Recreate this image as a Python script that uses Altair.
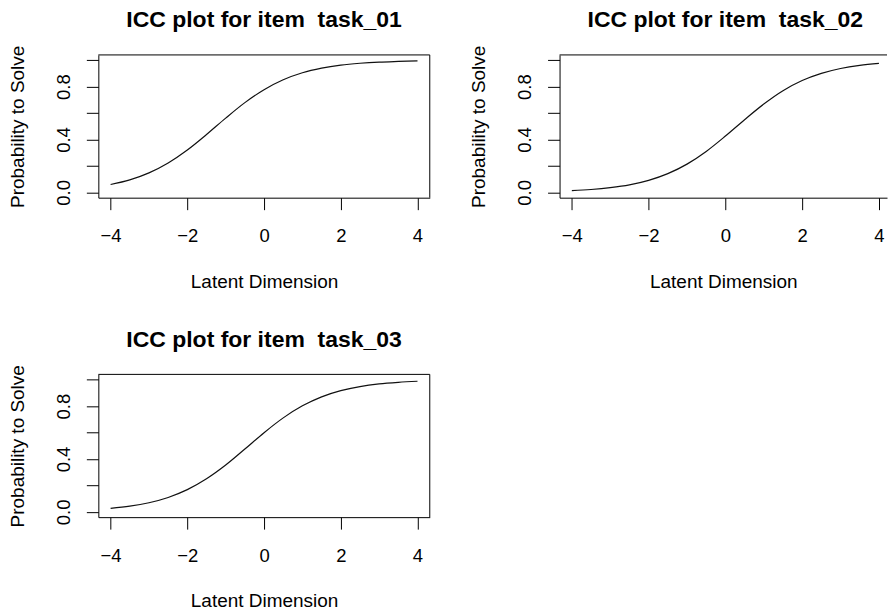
import altair as alt
import pandas as pd

# ---- data ----
theta = [-4.0, -3.5, -3.0, -2.5, -2.0, -1.5, -1.0, -0.5, 0.0,
         0.5, 1.0, 1.5, 2.0, 2.5, 3.0, 3.5, 4.0]
p_task_01 = [0.060, 0.095, 0.148, 0.223, 0.321, 0.438, 0.562, 0.679, 0.777,
             0.852, 0.905, 0.940, 0.963, 0.977, 0.986, 0.991, 0.995]
p_task_02 = [0.013, 0.022, 0.036, 0.057, 0.091, 0.142, 0.214, 0.310, 0.426,
             0.550, 0.668, 0.769, 0.846, 0.900, 0.937, 0.961, 0.976]
p_task_03 = [0.027, 0.043, 0.069, 0.109, 0.168, 0.250, 0.354, 0.475, 0.599,
             0.711, 0.802, 0.870, 0.917, 0.948, 0.968, 0.980, 0.988]
items = ["task_01", "task_02", "task_03"]
x_ticks = [-4, -2, 0, 2, 4]
y_ticks = [0.0, 0.2, 0.4, 0.6, 0.8, 1.0]
x_title = "Latent Dimension"
y_title = "Probability to Solve"

FONT = "Liberation Sans"
H = 143


def panel(item, probs, x_domain, width, title_dx, right_border=True):
    df = pd.DataFrame({"theta": theta, "p": probs})
    line = alt.Chart(df).mark_line(
        color="#111111", strokeWidth=1.2, interpolate="monotone", clip=True
    ).encode(
        x=alt.X(
            "theta:Q",
            scale=alt.Scale(domain=x_domain, nice=False, zero=False),
            axis=alt.Axis(
                values=x_ticks, grid=False, format="d",
                domain=True, domainColor="black", domainWidth=1,
                ticks=True, tickColor="black", tickSize=12, tickWidth=1,
                labelFont=FONT, labelFontSize=18.5, labelColor="black",
                labelPadding=32, labelBaseline="alphabetic", labelAlign="center",
                labelAngle=0, labelFlush=False, labelOverlap=False,
                title=x_title, titleFont=FONT, titleFontSize=19,
                titleFontWeight="normal", titleColor="black",
                titleY=90, titleBaseline="alphabetic",
            ),
        ),
        y=alt.Y(
            "p:Q",
            scale=alt.Scale(domain=[-0.04, 1.04], nice=False, zero=False),
            axis=alt.Axis(
                values=y_ticks, grid=False,
                labelExpr="indexof([0, 0.4, 0.8], datum.value) >= 0 ? format(datum.value, '.1f') : ''",
                domain=True, domainColor="black", domainWidth=1,
                ticks=True, tickColor="black", tickSize=12, tickWidth=1,
                labelFont=FONT, labelFontSize=18.5, labelColor="black",
                labelPadding=17, labelBaseline="alphabetic", labelAlign="center",
                labelAngle=270, labelFlush=False, labelOverlap=False,
                title=y_title, titleFont=FONT, titleFontSize=19,
                titleFontWeight="normal", titleColor="black",
                titleX=-75.2, titleBaseline="alphabetic", titleAngle=270,
                titleAlign="center",
            ),
        ),
    )
    one = alt.Data(values=[{"k": 0}])
    top = alt.Chart(one).mark_rule(color="black", strokeWidth=1).encode(
        x=alt.value(0), x2=alt.value(width), y=alt.value(0)
    )
    layers = [line, top]
    if right_border:
        right = alt.Chart(one).mark_rule(color="black", strokeWidth=1).encode(
            x=alt.value(width), y=alt.value(0), y2=alt.value(H)
        )
        layers.append(right)
    return alt.layer(*layers).properties(
        width=width,
        height=H,
        title=alt.TitleParams(
            text="ICC plot for item\u00a0\u00a0" + item,
            font=FONT, fontSize=23, fontWeight="bold", color="black",
            anchor="middle", frame="group", baseline="alphabetic",
            offset=-5, dx=title_dx,
        ),
    )


p1 = panel(items[0], p_task_01, [-4.32, 4.32], 332, 0)
p2 = panel(items[1], p_task_02, [-4.32, 4.21], 328, 2, right_border=False)
p3 = panel(items[2], p_task_03, [-4.32, 4.32], 332, 0)

chart = alt.concat(
    p1, p2, p3, columns=2, spacing={"row": 177, "column": 130}, bounds="flush"
).properties(
    padding={"left": 7.5, "top": 8.5, "right": 0, "bottom": 0},
    background="white",
).configure_view(strokeWidth=0)

chart.save("out.html", embed_options={"renderer": "svg", "actions": False})
